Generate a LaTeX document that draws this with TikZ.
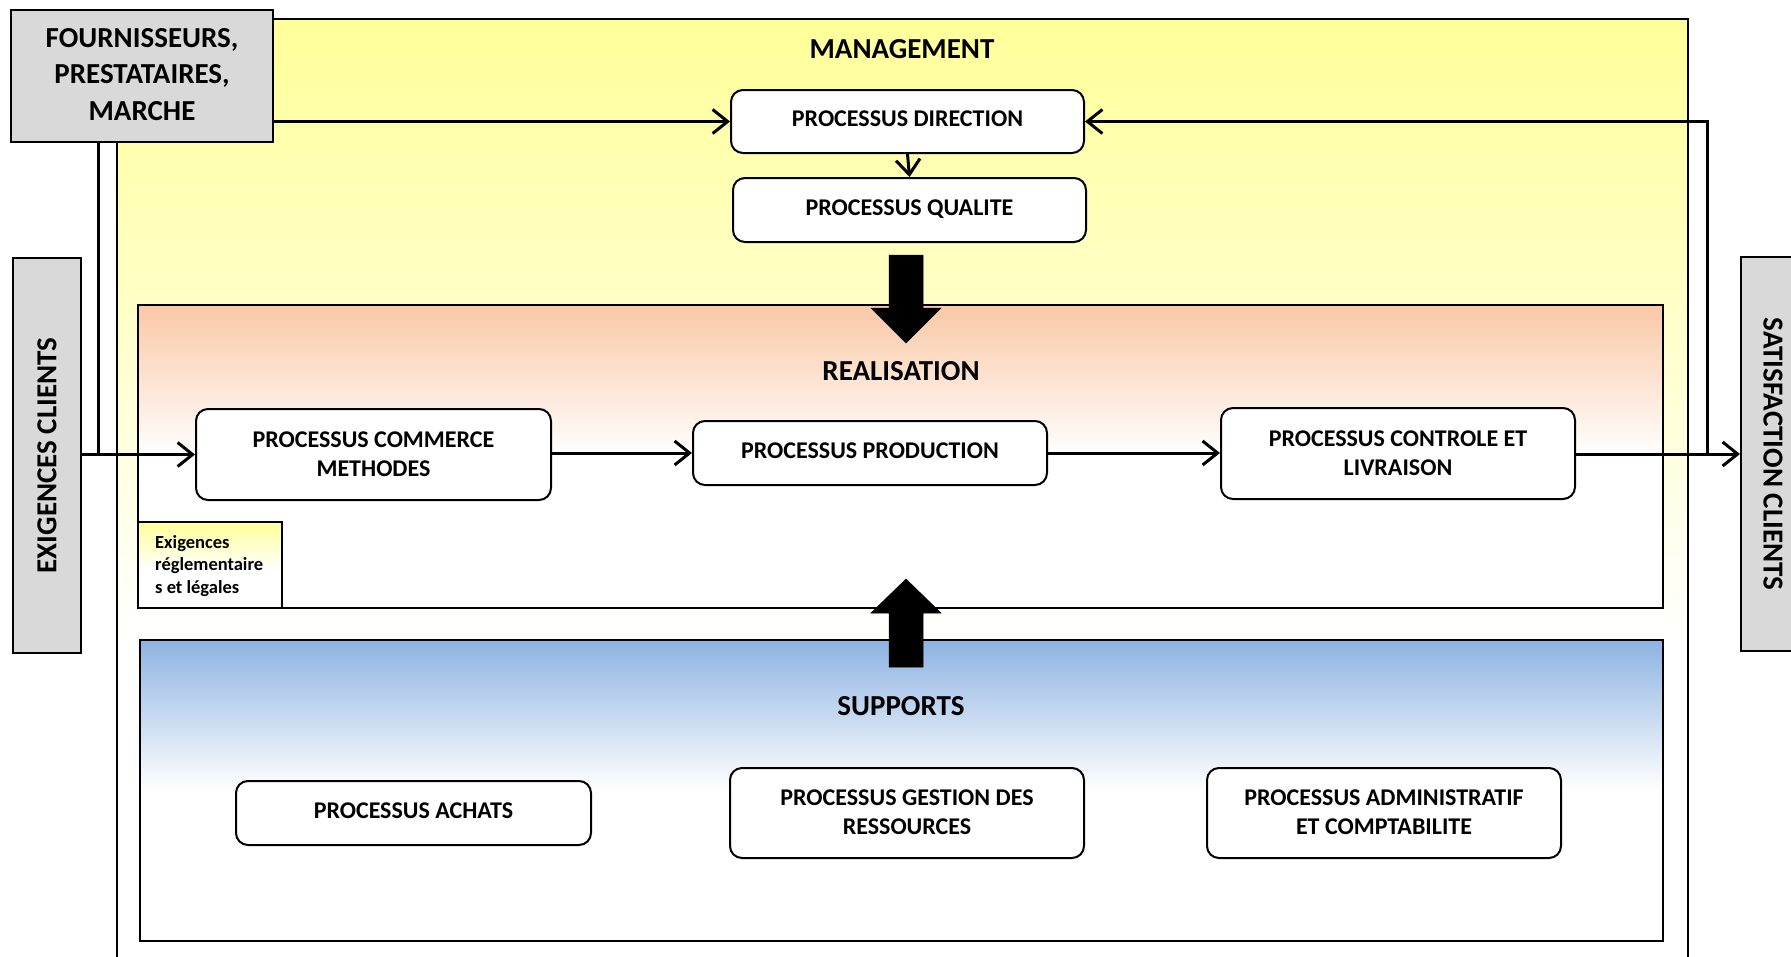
\documentclass[tikz,border=0pt]{standalone}
\usepackage{fontspec}
\setmainfont{Carlito}
\usetikzlibrary{arrows.meta,calc}
\definecolor{mgy}{HTML}{FFFF99}
\definecolor{rpeach}{HTML}{FAC8A6}
\definecolor{sblue}{HTML}{8DB3E2}
\definecolor{gbox}{HTML}{D9D9D9}
\begin{document}
\begin{tikzpicture}[x=1pt,y=-1pt,
  proc/.style={draw=black, line width=2pt, rounded corners=12pt, fill=white, align=center, font=\bfseries\fontsize{24}{29}\selectfont, inner sep=0pt, text depth=5pt},
  proctwo/.style={proc, text depth=1.5pt},
  side/.style={draw=black, line width=2pt, fill=gbox, align=center, font=\bfseries\fontsize{29}{36.5}\selectfont, inner sep=0pt},
  title/.style={font=\bfseries\fontsize{29}{34}\selectfont},
  ln/.style={line width=3pt},
  arr/.style={line width=3pt, -{Straight Barb[length=15pt,width=24pt,line width=3pt]}},
  region/.style={draw=black, line width=2pt},
  blockarrow/.style={fill=black, draw=black, line width=0.5pt}
]
\useasboundingbox (0,0) rectangle (1791,956);
% management region
\shade[top color=mgy, bottom color=white] (117,19) rectangle (1688,640);
\fill[white] (117,640) rectangle (1688,980);
\draw[region] (117,19) rectangle (1688,980);
% realisation region
\shade[top color=rpeach, bottom color=white] (138,305) rectangle (1663,455);
\fill[white] (138,455) rectangle (1663,608);
\draw[region] (138,305) rectangle (1663,608);
% supports region
\shade[top color=sblue, bottom color=white] (140,640) rectangle (1663,790);
\fill[white] (140,790) rectangle (1663,941);
\draw[region] (140,640) rectangle (1663,941);
% exigences reglementaires
\shade[top color=mgy, bottom color=white] (138,522) rectangle (282,570);
\fill[white] (138,570) rectangle (282,608);
\draw[region] (138,522) rectangle (282,608);
\node[anchor=west, align=left, inner sep=0pt, font=\bfseries\fontsize{18.5}{22.5}\selectfont] (exreg) at (155,566) {Exigences\\réglementaire\\s et légales};
% titles
\node[title] (tman) at (902,49) {MANAGEMENT};
\node[title] (treal) at (901,371) {REALISATION};
\node[title] (tsup) at (901,706) {SUPPORTS};
% process nodes
\node[proc, minimum width=353pt, minimum height=63pt] (dir) at (907.5,121.5) {PROCESSUS DIRECTION};
\node[proc, minimum width=353pt, minimum height=64pt] (qua) at (909.5,210) {PROCESSUS QUALITE};
\node[proctwo, minimum width=355pt, minimum height=91pt] (com) at (373.5,454.5) {PROCESSUS COMMERCE\\METHODES};
\node[proc, minimum width=354pt, minimum height=64pt] (prod) at (870,453) {PROCESSUS PRODUCTION};
\node[proctwo, minimum width=354pt, minimum height=91pt] (ctl) at (1398,453.5) {PROCESSUS CONTROLE ET\\LIVRAISON};
\node[proc, minimum width=355pt, minimum height=64pt] (ach) at (413.5,813) {PROCESSUS ACHATS};
\node[proctwo, minimum width=354pt, minimum height=90pt] (ges) at (907,813) {PROCESSUS GESTION DES\\RESSOURCES};
\node[proctwo, minimum width=354pt, minimum height=90pt] (adm) at (1384,813) {PROCESSUS ADMINISTRATIF\\ET COMPTABILITE};
% side nodes
\node[side, minimum width=262pt, minimum height=132pt, text depth=4pt] (frn) at (142,76) {FOURNISSEURS,\\PRESTATAIRES,\\MARCHE};
\node[side, rotate=90, minimum width=395pt, minimum height=68pt] (exi) at (47,455.5) {EXIGENCES CLIENTS};
\node[side, rotate=-90, minimum width=394pt, minimum height=64pt] (sat) at (1773,454) {SATISFACTION CLIENTS};
% connectors
\coordinate (jl) at (98,455);
\coordinate (jr) at (1707,454);
\draw[arr] (frn.east |- dir.west) -- (dir.west);
\draw[ln] (frn.south -| jl) -- (jl);
\draw[arr] (exi.south |- com.west) -- (com.west);
\draw[arr] (com.east |- prod.west) -- (prod.west);
\draw[arr] (prod.east) -- (prod.east -| ctl.west);
\draw[arr] (ctl.east |- jr) -- (jr -| sat.south);
\draw[arr] (jr) |- (dir.east);
\draw[arr] (dir.south) -- (qua.north);
% block arrows
\draw[blockarrow] (889,255) -- (923,255) -- (923,308) -- (941,308) -- (906,343) -- (871,308) -- (889,308) -- cycle;
\draw[blockarrow] (889,667) -- (923,667) -- (923,613) -- (941,613) -- (906,579) -- (871,613) -- (889,613) -- cycle;
\end{tikzpicture}
\end{document}
